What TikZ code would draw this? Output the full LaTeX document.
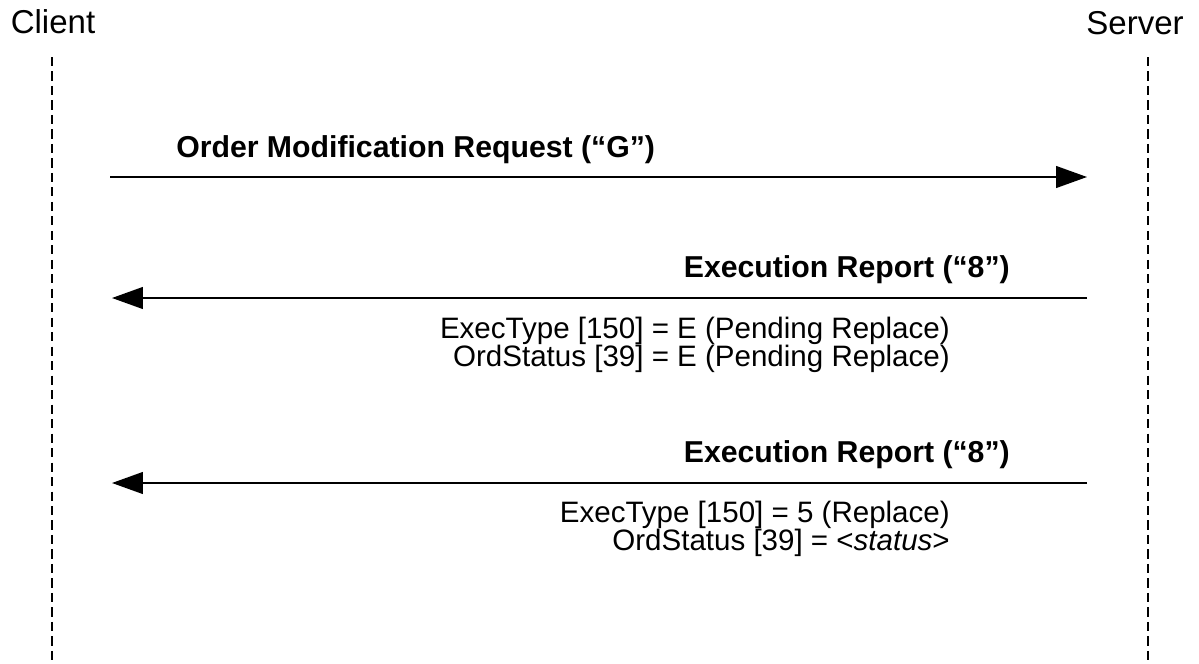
\documentclass[tikz,border=0pt]{standalone}
\usepackage{fontspec}
\setmainfont{Liberation Sans}
\usetikzlibrary{arrows.meta}

\tikzset{
  lifeline/.style={line width=1.4pt, dash pattern=on 6.5pt off 3.8pt},
  msg/.style={line width=1.3pt, -{Triangle[length=22pt,width=15.5pt]}},
  role/.style={font=\fontsize{23.5}{28}\selectfont, inner sep=0pt, anchor=base},
  msgname/.style={font=\bfseries\fontsize{21.5}{26}\selectfont, inner sep=0pt},
  field/.style={font={\fontsize{21}{19.6}\selectfont\lineskiplimit=-100pt\relax}, align=right, inner sep=0pt, anchor=base east},
}

\begin{document}
\begin{tikzpicture}[x=0.025cm,y=-0.025cm]
\useasboundingbox (0,0) rectangle (1199,664);

% participants
\node [role] (client) at (53,33) {Client};
\node [role] (server) at (1135,34) {Server};
\coordinate (ctop) at (52,57);
\coordinate (cbot) at (52,664);
\coordinate (stop) at (1148,57);
\coordinate (sbot) at (1148,664);
\draw [lifeline] (ctop) -- (cbot);
\draw [lifeline] (stop) -- (sbot);

% order modification request
\coordinate (c1) at (110,177);
\coordinate (s1) at (1087,177);
\draw [msg] (c1) -- (s1);
\node [msgname, anchor=base west] (req) at (176,157) {Order Modification Request (“G”)};

% pending replace report
\coordinate (c2) at (112,298);
\coordinate (s2) at (1087,298);
\draw [msg] (s2) -- (c2);
\node [msgname, anchor=base east] (rep1) at (1010,277) {Execution Report (“8”)};
\node [field] (pend) at (950,366) {ExecType [150] = E (Pending Replace)\\OrdStatus [39] = E (Pending Replace)};

% replaced report
\coordinate (c3) at (112,483);
\coordinate (s3) at (1087,483);
\draw [msg] (s3) -- (c3);
\node [msgname, anchor=base east] (rep2) at (1010,462) {Execution Report (“8”)};
\node [field] (repl) at (950,550) {ExecType [150] = 5 (Replace)\\OrdStatus [39] = <\textit{status}>};
\end{tikzpicture}
\end{document}
